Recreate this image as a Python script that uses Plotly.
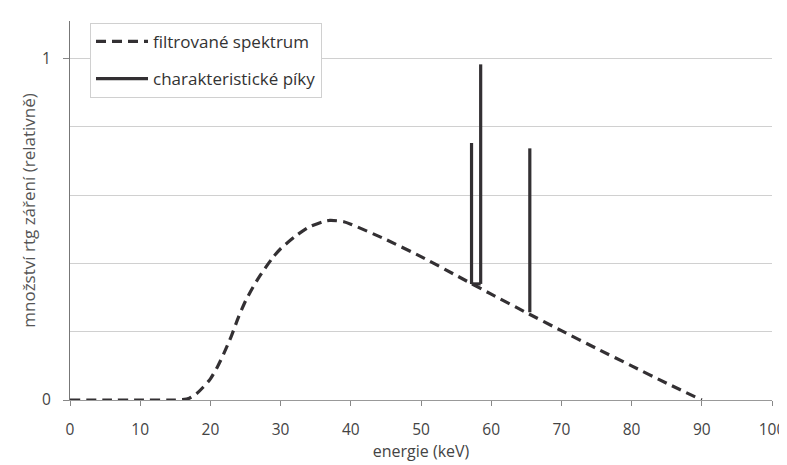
import plotly.graph_objects as go

# Filtered spectrum (energy keV, relative amount)
energy = [0, 5, 10, 15, 16, 17, 18, 19, 20, 21, 22, 23, 24, 25, 26, 27, 28, 29, 30,
          32, 34, 36, 37, 38, 39, 40, 45, 50, 55, 60, 65, 70, 75, 80, 85, 90]
spectrum = [0, 0, 0, 0, 0.001, 0.005, 0.018, 0.038, 0.062, 0.097, 0.14, 0.188, 0.243,
            0.29, 0.328, 0.362, 0.392, 0.42, 0.443, 0.478, 0.506, 0.522, 0.526, 0.525,
            0.522, 0.515, 0.47, 0.42, 0.365, 0.31, 0.256, 0.203, 0.151, 0.100, 0.049, 0]

# Characteristic peaks
peak_energy = [57.2, 58.5, 65.5]
peak_base = [0.34, 0.34, 0.257]
peak_top = [0.753, 0.983, 0.737]

x_ticks = [0, 10, 20, 30, 40, 50, 60, 70, 80, 90, 100]
y_ticks = [0, 1]

ink = "#333033"
font = "Open Sans"

px_, py_ = [], []
for e, b, t in zip(peak_energy, peak_base, peak_top):
    px_ += [e, e, None]
    py_ += [b, t, None]

fig = go.Figure()
fig.add_trace(go.Scatter(
    x=energy, y=spectrum, mode="lines", name="filtrované spektrum",
    line=dict(color=ink, width=3.2, dash="10px,6px", shape="spline", smoothing=0.6),
    legendgroup="a"))
fig.add_trace(go.Scatter(
    x=px_, y=py_, mode="lines", name="charakteristické píky",
    line=dict(color=ink, width=3.2), legendgroup="b"))
# small base connector of the first two peaks
fig.add_trace(go.Scatter(
    x=[peak_energy[0], peak_energy[1]], y=[peak_base[0], peak_base[1]], mode="lines",
    line=dict(color=ink, width=3.2), showlegend=False, hoverinfo="skip"))

fig.update_layout(
    width=787, height=465,
    margin=dict(l=62, r=23, t=13, b=73),
    paper_bgcolor="white", plot_bgcolor="white",
    font=dict(family=font, size=15, color="#444"),
    showlegend=True,
    legend=dict(x=0.0285, y=0.995, xanchor="left", yanchor="top",
                bordercolor="#d0d0d0", borderwidth=1, bgcolor="white",
                tracegroupgap=12, itemwidth=52,
                font=dict(size=17, color="#333")),
    xaxis=dict(range=[0, 100], tickvals=x_ticks, ticks="outside", ticklen=5,
               tickcolor="#888", showline=True, linecolor="#999", linewidth=1,
               showgrid=False, zeroline=False, ticklabelstandoff=10, automargin=False,
               tickfont=dict(size=15.5, color="#444"),
               title=dict(text="energie (keV)", font=dict(size=16, color="#444"), standoff=6)),
    yaxis=dict(range=[0, 1.11], tickvals=y_ticks, ticks="outside", ticklen=6,
               tickcolor="#888", showline=True, linecolor="#777", linewidth=1,
               showgrid=True, gridcolor="#d0d0d0", zeroline=False, ticklabelstandoff=9,
               automargin=False,
               tickfont=dict(size=15.5, color="#444"),
               minor=dict(dtick=0.2, tick0=0, showgrid=True, gridcolor="#d0d0d0", ticks=""),
               title=dict(text="množství rtg záření (relativně)", font=dict(size=17, color="#555"),
                          standoff=2)),
)

fig.write_html("out.html")
